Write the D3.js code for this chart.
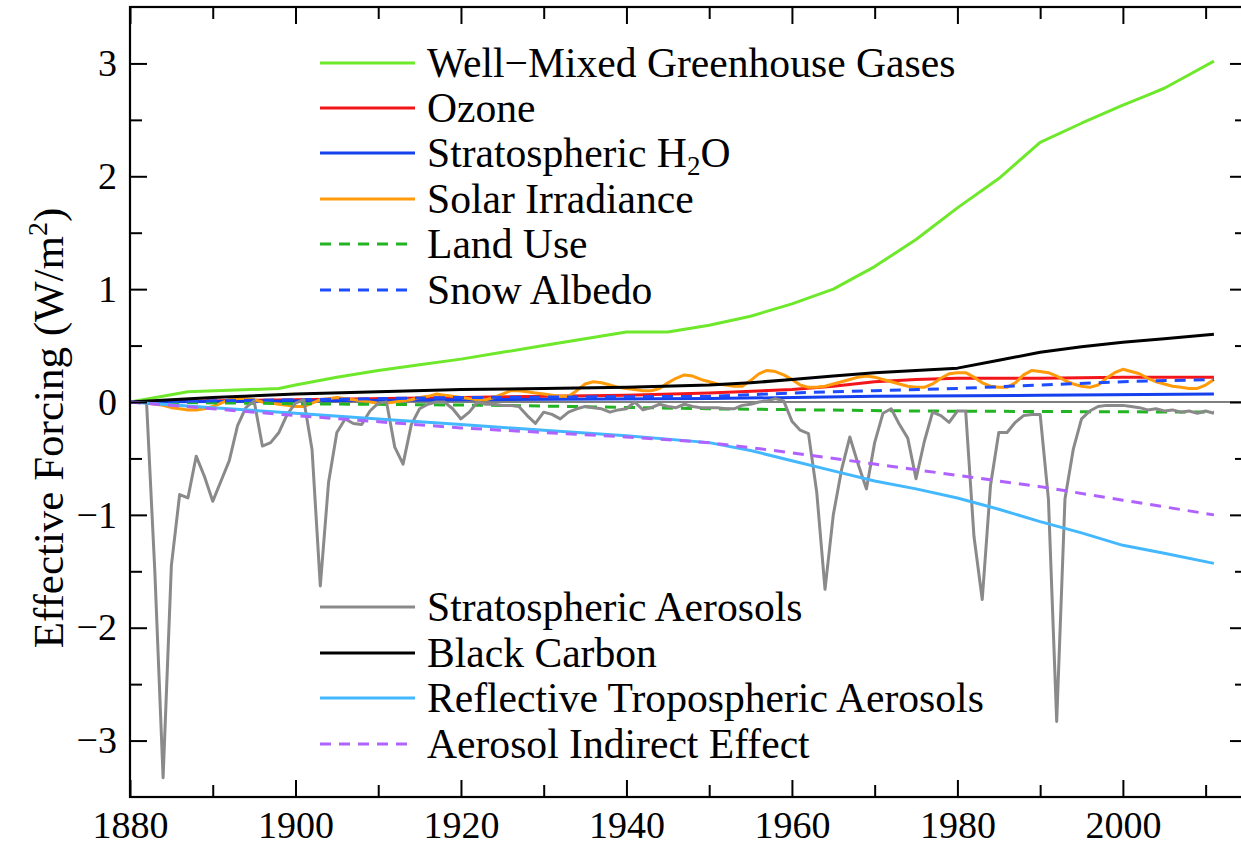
<!DOCTYPE html>
<html>
<head>
<meta charset="utf-8">
<script src="https://cdn.jsdelivr.net/npm/d3@7"></script>
<style>
  html, body { margin: 0; padding: 0; background: #fff; }
  svg { display: block; }
  text { font-family: "Liberation Serif", "DejaVu Serif", serif; fill: #000; }
</style>
</head>
<body>
<svg id="chart" width="1241" height="847"></svg>
<script>
// ---------- DATA ----------
const annualYears = d3.range(1880, 2012);

const stratAerosols = [
  0, 0, 0, -1.5, -3.33, -1.45, -0.82, -0.85, -0.48, -0.66,
  -0.88, -0.7, -0.52, -0.21, -0.05, 0.01, -0.39, -0.36, -0.27, -0.11,
  -0.01, 0.02, -0.42, -1.63, -0.71, -0.27, -0.15, -0.19, -0.2, -0.08,
  -0.01, 0, -0.4, -0.55, -0.2, -0.06, -0.02, 0, 0, -0.06,
  -0.15, -0.09, 0, -0.02, -0.02, -0.03, -0.03, -0.04, -0.12, -0.19,
  -0.09, -0.11, -0.15, -0.09, -0.06, -0.04, -0.05, -0.06, -0.09, -0.07,
  -0.06, 0, -0.07, -0.05, -0.02, -0.04, -0.05, -0.02, -0.04, -0.05,
  -0.05, -0.05, -0.06, -0.06, -0.03, -0.02, 0, 0.01, 0.03, 0.01,
  -0.17, -0.25, -0.28, -0.8, -1.66, -1.0, -0.6, -0.31, -0.55, -0.77,
  -0.36, -0.1, -0.06, -0.2, -0.32, -0.68, -0.35, -0.09, -0.12, -0.18,
  -0.08, -0.08, -1.19, -1.75, -0.74, -0.27, -0.27, -0.18, -0.12, -0.11,
  -0.11, -0.86, -2.83, -0.86, -0.42, -0.15, -0.08, -0.04, -0.03, -0.03,
  -0.03, -0.04, -0.05, -0.07, -0.06, -0.08, -0.07, -0.09, -0.08, -0.1,
  -0.08, -0.1
];

const solarIrradiance = [
  0, 0, -0.01, -0.02, -0.03, -0.05, -0.06, -0.07, -0.07, -0.06,
  -0.04, -0.01, 0.02, 0.03, 0.03, 0.02, 0, -0.01, -0.02, -0.03,
  -0.04, -0.04, -0.01, 0.02, 0.03, 0.04, 0.03, 0.02, 0.01, 0,
  -0.01, -0.01, 0, 0.01, 0.02, 0.04, 0.05, 0.07, 0.06, 0.05,
  0.04, 0.03, 0.02, 0.02, 0.04, 0.07, 0.1, 0.1, 0.09, 0.08,
  0.07, 0.06, 0.05, 0.05, 0.1, 0.16, 0.18, 0.17, 0.15, 0.13,
  0.12, 0.11, 0.1, 0.1, 0.12, 0.17, 0.21, 0.24, 0.23, 0.2,
  0.18, 0.16, 0.15, 0.14, 0.14, 0.19, 0.25, 0.28, 0.27, 0.24,
  0.2, 0.15, 0.13, 0.13, 0.14, 0.16, 0.18, 0.2, 0.22, 0.23,
  0.22, 0.2, 0.18, 0.16, 0.14, 0.13, 0.13, 0.16, 0.21, 0.25,
  0.26, 0.26, 0.22, 0.17, 0.14, 0.13, 0.13, 0.17, 0.24, 0.28,
  0.27, 0.26, 0.23, 0.19, 0.16, 0.14, 0.13, 0.15, 0.21, 0.26,
  0.29, 0.27, 0.25, 0.21, 0.18, 0.16, 0.14, 0.13, 0.12, 0.12,
  0.15, 0.2
];

const wmghgYears  = [1880, 1887, 1898, 1900, 1905, 1910, 1915, 1920, 1925, 1930, 1935, 1940, 1945, 1950, 1955, 1960, 1965, 1970, 1975, 1980, 1985, 1990, 1995, 2000, 2003, 2005, 2008, 2011];
const wmghgValues = [0, 0.09, 0.12, 0.15, 0.22, 0.28, 0.33, 0.38, 0.44, 0.5, 0.56, 0.62, 0.62, 0.68, 0.76, 0.87, 1.0, 1.2, 1.44, 1.72, 1.98, 2.3, 2.47, 2.63, 2.72, 2.78, 2.9, 3.02];

const ozoneYears  = [1880, 1900, 1920, 1940, 1950, 1960, 1965, 1970, 1975, 1980, 1990, 2000, 2011];
const ozoneValues = [0, 0.02, 0.04, 0.06, 0.08, 0.11, 0.14, 0.18, 0.2, 0.21, 0.21, 0.22, 0.22];

const h2oYears  = [1880, 1920, 1950, 1970, 1990, 2011];
const h2oValues = [0, 0.02, 0.03, 0.05, 0.06, 0.07];

const landUseYears  = [1880, 1900, 1925, 1950, 1975, 2011];
const landUseValues = [0, -0.015, -0.03, -0.06, -0.08, -0.09];

const snowYears  = [1880, 1900, 1920, 1950, 1960, 1970, 1980, 1990, 2000, 2011];
const snowValues = [0, 0.02, 0.04, 0.05, 0.08, 0.1, 0.12, 0.15, 0.18, 0.2];

const bcYears  = [1880, 1890, 1900, 1910, 1920, 1930, 1940, 1950, 1955, 1960, 1965, 1970, 1975, 1980, 1985, 1990, 1995, 2000, 2005, 2011];
const bcValues = [0, 0.04, 0.07, 0.09, 0.11, 0.12, 0.13, 0.15, 0.17, 0.2, 0.23, 0.26, 0.28, 0.3, 0.37, 0.44, 0.49, 0.53, 0.56, 0.6];

const reflYears  = [1880, 1890, 1900, 1910, 1920, 1930, 1940, 1950, 1955, 1960, 1965, 1970, 1975, 1980, 1985, 1990, 1995, 2000, 2005, 2011];
const reflValues = [0, -0.05, -0.1, -0.15, -0.2, -0.25, -0.3, -0.36, -0.43, -0.52, -0.61, -0.7, -0.77, -0.85, -0.95, -1.06, -1.16, -1.27, -1.34, -1.43];

const aieYears  = [1880, 1900, 1920, 1940, 1950, 1960, 1970, 1980, 1990, 2000, 2011];
const aieValues = [0, -0.12, -0.23, -0.31, -0.36, -0.45, -0.55, -0.65, -0.75, -0.87, -1.0];

const seriesNames = [
  "Well\u2212Mixed Greenhouse Gases", "Ozone", "Stratospheric H2O", "Solar Irradiance",
  "Land Use", "Snow Albedo", "Stratospheric Aerosols", "Black Carbon",
  "Reflective Tropospheric Aerosols", "Aerosol Indirect Effect"
];
const xTickValues = [1880, 1900, 1920, 1940, 1960, 1980, 2000];
const xMinorTickValues = [1890, 1910, 1930, 1950, 1970, 1990, 2010];
const yTickValues = [-3, -2, -1, 0, 1, 2, 3];
const yMinorTickValues = [-2.5, -1.5, -0.5, 0.5, 1.5, 2.5];

// ---------- STYLE ----------
const styles = [
  { color: "#6ee82a", dash: null },
  { color: "#f2161a", dash: null },
  { color: "#1440ee", dash: null },
  { color: "#ff9a0a", dash: null },
  { color: "#22b422", dash: "11,8" },
  { color: "#1e4cff", dash: "11,8" },
  { color: "#8a8a8a", dash: null },
  { color: "#000000", dash: null },
  { color: "#44b8ff", dash: null },
  { color: "#b062ff", dash: "11,8" }
];

const zip = (xs, ys) => xs.map((xv, i) => ({ x: xv, y: ys[i] }));
const seriesData = [
  zip(wmghgYears, wmghgValues),
  zip(ozoneYears, ozoneValues),
  zip(h2oYears, h2oValues),
  zip(annualYears, solarIrradiance),
  zip(landUseYears, landUseValues),
  zip(snowYears, snowValues),
  zip(annualYears, stratAerosols),
  zip(bcYears, bcValues),
  zip(reflYears, reflValues),
  zip(aieYears, aieValues)
];

// ---------- CHART ----------
(function () {
const svg = d3.select("#chart");
const pL = 130, pR = 1247, pT = 7, pB = 797;

const x = d3.scaleLinear().domain([1880, 2015]).range([pL, pR]);
const y = d3.scaleLinear().domain([-3.5, 3.5]).range([pB, pT]);

svg.append("clipPath").attr("id", "clip")
  .append("rect").attr("x", pL).attr("y", pT).attr("width", pR - pL).attr("height", pB - pT);

// zero line
svg.append("line")
  .attr("x1", pL).attr("x2", pR)
  .attr("y1", y(0)).attr("y2", y(0))
  .attr("stroke", "#000").attr("stroke-width", 1.2);

const line = d3.line().x(d => x(d.x)).y(d => y(d.y));
const linesG = svg.append("g").attr("clip-path", "url(#clip)");
seriesData.forEach((d, i) => {
  linesG.append("path")
    .datum(d)
    .attr("d", line)
    .attr("fill", "none")
    .attr("stroke", styles[i].color)
    .attr("stroke-width", 3)
    .attr("stroke-linejoin", "round")
    .attr("stroke-dasharray", styles[i].dash);
});

// axes (ticks inside, mirrored)
const major = 17, minor = 12;
function styleAxis(g) {
  g.select(".domain").remove();
  g.selectAll(".tick line").attr("stroke", "#000").attr("stroke-width", 2);
  g.selectAll(".tick text").attr("font-family", "Liberation Serif").attr("font-size", 38).attr("fill", "#000");
}
const axes = [
  [d3.axisBottom(x).tickValues(xTickValues).tickSize(-major).tickPadding(14).tickFormat(d3.format("d")), `translate(0,${pB})`],
  [d3.axisBottom(x).tickValues(xMinorTickValues).tickSize(-minor).tickFormat(""), `translate(0,${pB})`],
  [d3.axisTop(x).tickValues(xTickValues).tickSize(-major).tickFormat(""), `translate(0,${pT})`],
  [d3.axisTop(x).tickValues(xMinorTickValues).tickSize(-minor).tickFormat(""), `translate(0,${pT})`],
  [d3.axisLeft(y).tickValues(yTickValues).tickSize(-major).tickPadding(13).tickFormat(d3.format("d")), `translate(${pL},0)`],
  [d3.axisLeft(y).tickValues(yMinorTickValues).tickSize(-minor).tickFormat(""), `translate(${pL},0)`],
  [d3.axisRight(y).tickValues(yTickValues).tickSize(-major).tickFormat(""), `translate(${pR},0)`],
  [d3.axisRight(y).tickValues(yMinorTickValues).tickSize(-minor).tickFormat(""), `translate(${pR},0)`]
];
axes.forEach(([ax, tr]) => svg.append("g").attr("transform", tr).call(ax).call(styleAxis));

// frame
svg.append("rect")
  .attr("x", pL).attr("y", pT).attr("width", pR - pL).attr("height", pB - pT)
  .attr("fill", "none").attr("stroke", "#000").attr("stroke-width", 2.2);

// y-axis title
const yt = svg.append("text")
  .attr("transform", `translate(63,${(pT + pB) / 2 + 26}) rotate(-90)`)
  .attr("text-anchor", "middle")
  .attr("font-size", 43);
yt.append("tspan").text("Effective Forcing (W/m");
yt.append("tspan").text("2").attr("font-size", 28).attr("dy", -16);
yt.append("tspan").text(")").attr("dy", 16);

// legend
const legendRows = [
  { i: 0, y: 63 }, { i: 1, y: 108 }, { i: 2, y: 153 }, { i: 3, y: 199 }, { i: 4, y: 244 }, { i: 5, y: 290 },
  { i: 6, y: 607 }, { i: 7, y: 653 }, { i: 8, y: 698 }, { i: 9, y: 744 }
];
const lg = svg.append("g");
legendRows.forEach(r => {
  const s = styles[r.i];
  lg.append("line")
    .attr("x1", 320).attr("x2", 415).attr("y1", r.y).attr("y2", r.y)
    .attr("stroke", s.color).attr("stroke-width", 3)
    .attr("stroke-dasharray", s.dash);
  const t = lg.append("text").attr("x", 427).attr("y", r.y + 14).attr("font-size", 41.6);
  const name = seriesNames[r.i];
  if (name === "Stratospheric H2O") {
    t.append("tspan").text("Stratospheric H");
    t.append("tspan").text("2").attr("font-size", 27).attr("dy", 8);
    t.append("tspan").text("O").attr("dy", -8);
  } else {
    t.text(name);
  }
});
})();
</script>
</body>
</html>
